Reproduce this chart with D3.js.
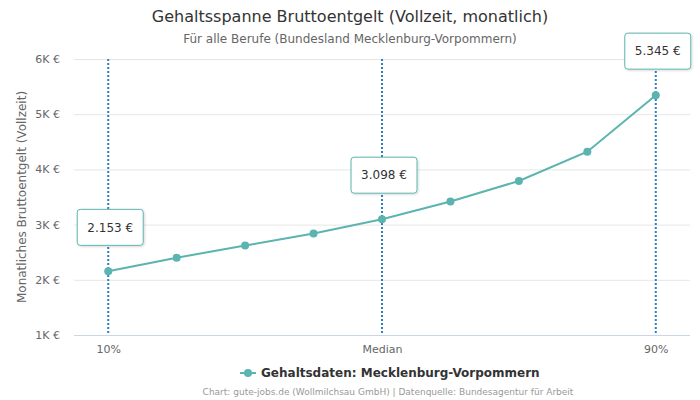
<!DOCTYPE html>
<html><head><meta charset="utf-8">
<script src="https://cdn.jsdelivr.net/npm/d3@7"></script>
<style>body{margin:0;background:#fff}svg{font-family:"DejaVu Sans",sans-serif}</style>
</head><body><svg id="c" width="700" height="400"></svg>
<script>
const categories = ["10%","20%","30%","40%","Median","60%","70%","80%","90%"];
const values = [2153, 2400, 2620, 2840, 3098, 3420, 3790, 4320, 5345];
const tickLabels = ["10%","Median","90%"];
const yTicks = [1000,2000,3000,4000,5000,6000];
const markerCats = ["10%","Median","90%"];
const title = "Gehaltsspanne Bruttoentgelt (Vollzeit, monatlich)";
const subtitle = "Für alle Berufe (Bundesland Mecklenburg-Vorpommern)";
const yTitle = "Monatliches Bruttoentgelt (Vollzeit)";
const seriesName = "Gehaltsdaten: Mecklenburg-Vorpommern";
const credits = "Chart: gute-jobs.de (Wollmilchsau GmbH) | Datenquelle: Bundesagentur für Arbeit";

const svg = d3.select("#c");
const L=74, R=690, T=59, B=335;
const x = d3.scalePoint().domain(categories).range([L,R]).padding(0.5);
const y = d3.scaleLinear().domain([1000,6000]).range([B,T]);
const teal = "#5bb4af", blue="#2e7fbf";
const fmt = v => d3.format(",")(v).replace(/,/g,".") + " €";

svg.append("text").attr("x",350).attr("y",22).attr("text-anchor","middle")
  .attr("font-size",16).attr("fill","#333").text(title);
svg.append("text").attr("x",350).attr("y",43).attr("text-anchor","middle")
  .attr("font-size",12).attr("fill","#666").text(subtitle);

// grid
svg.append("g").selectAll("line").data(yTicks).join("line")
  .attr("x1",L).attr("x2",R).attr("y1",d=>y(d)+0.5).attr("y2",d=>y(d)+0.5)
  .attr("stroke",d=>d===1000?"#ccd6eb":"#e6e6e6").attr("stroke-width",1);

// y axis labels
const yAxis = d3.axisLeft(y).tickValues(yTicks).tickSize(0).tickPadding(0)
  .tickFormat(d=>(d/1000)+"K €");
const ya = svg.append("g").attr("transform",`translate(${L-14},0)`).call(yAxis);
ya.select(".domain").remove();
ya.selectAll("text").attr("font-size",11).attr("fill","#666").attr("font-family","DejaVu Sans, sans-serif");

// x axis labels
const xAxis = d3.axisBottom(x).tickValues(tickLabels).tickSize(0).tickPadding(0);
const xa = svg.append("g").attr("transform",`translate(0,${B+10})`).call(xAxis);
xa.select(".domain").remove();
xa.selectAll("text").attr("font-size",11).attr("fill","#666").attr("font-family","DejaVu Sans, sans-serif");

svg.append("text").attr("transform",`translate(26,${(T+B)/2}) rotate(-90)`)
  .attr("text-anchor","middle").attr("font-size",12).attr("fill","#666").text(yTitle);

// marker lines
svg.append("g").selectAll("line").data(markerCats).join("line")
  .attr("x1",d=>x(d)).attr("x2",d=>x(d)).attr("y1",T).attr("y2",B)
  .attr("stroke",blue).attr("stroke-width",2).attr("stroke-dasharray","2,2");

// line
const data = categories.map((c,i)=>({c,v:values[i]}));
svg.append("path").datum(data).attr("fill","none").attr("stroke",teal).attr("stroke-width",2)
  .attr("d",d3.line().x(d=>x(d.c)).y(d=>y(d.v)));
svg.append("g").selectAll("circle").data(data).join("circle")
  .attr("cx",d=>x(d.c)).attr("cy",d=>y(d.v)).attr("r",4).attr("fill",teal);

// labels
const defs = svg.append("defs");
const f = defs.append("filter").attr("id","sh").attr("x","-20%").attr("y","-20%").attr("width","150%").attr("height","150%");
f.append("feDropShadow").attr("dx",1).attr("dy",1).attr("stdDeviation",1.2).attr("flood-color","#000").attr("flood-opacity",0.15);
const lab = svg.append("g").selectAll("g").data(data.filter(d=>markerCats.includes(d.c))).join("g")
  .attr("transform",d=>`translate(${x(d.c)+2},${y(d.v)-44})`);
lab.append("rect").attr("x",-33).attr("y",-18).attr("width",66).attr("height",36).attr("rx",3)
  .attr("fill","#fff").attr("stroke",teal).attr("stroke-width",1).attr("filter","url(#sh)");
lab.append("text").attr("text-anchor","middle").attr("dy","0.35em").attr("font-size",12)
  .attr("fill","#333").text(d=>fmt(d.v));

// legend
const lg = svg.append("g").attr("transform","translate(0,373)");
lg.append("line").attr("x1",240).attr("x2",256).attr("y1",0).attr("y2",0).attr("stroke",teal).attr("stroke-width",2);
lg.append("circle").attr("cx",248).attr("cy",0).attr("r",4).attr("fill",teal);
lg.append("text").attr("x",261).attr("y",0).attr("dy","0.35em").attr("font-size",12).attr("font-weight","bold")
  .attr("fill","#333").text(seriesName);

svg.append("text").attr("x",388).attr("y",395).attr("text-anchor","middle").attr("font-size",9)
  .attr("fill","#999").text(credits);
</script></body></html>
